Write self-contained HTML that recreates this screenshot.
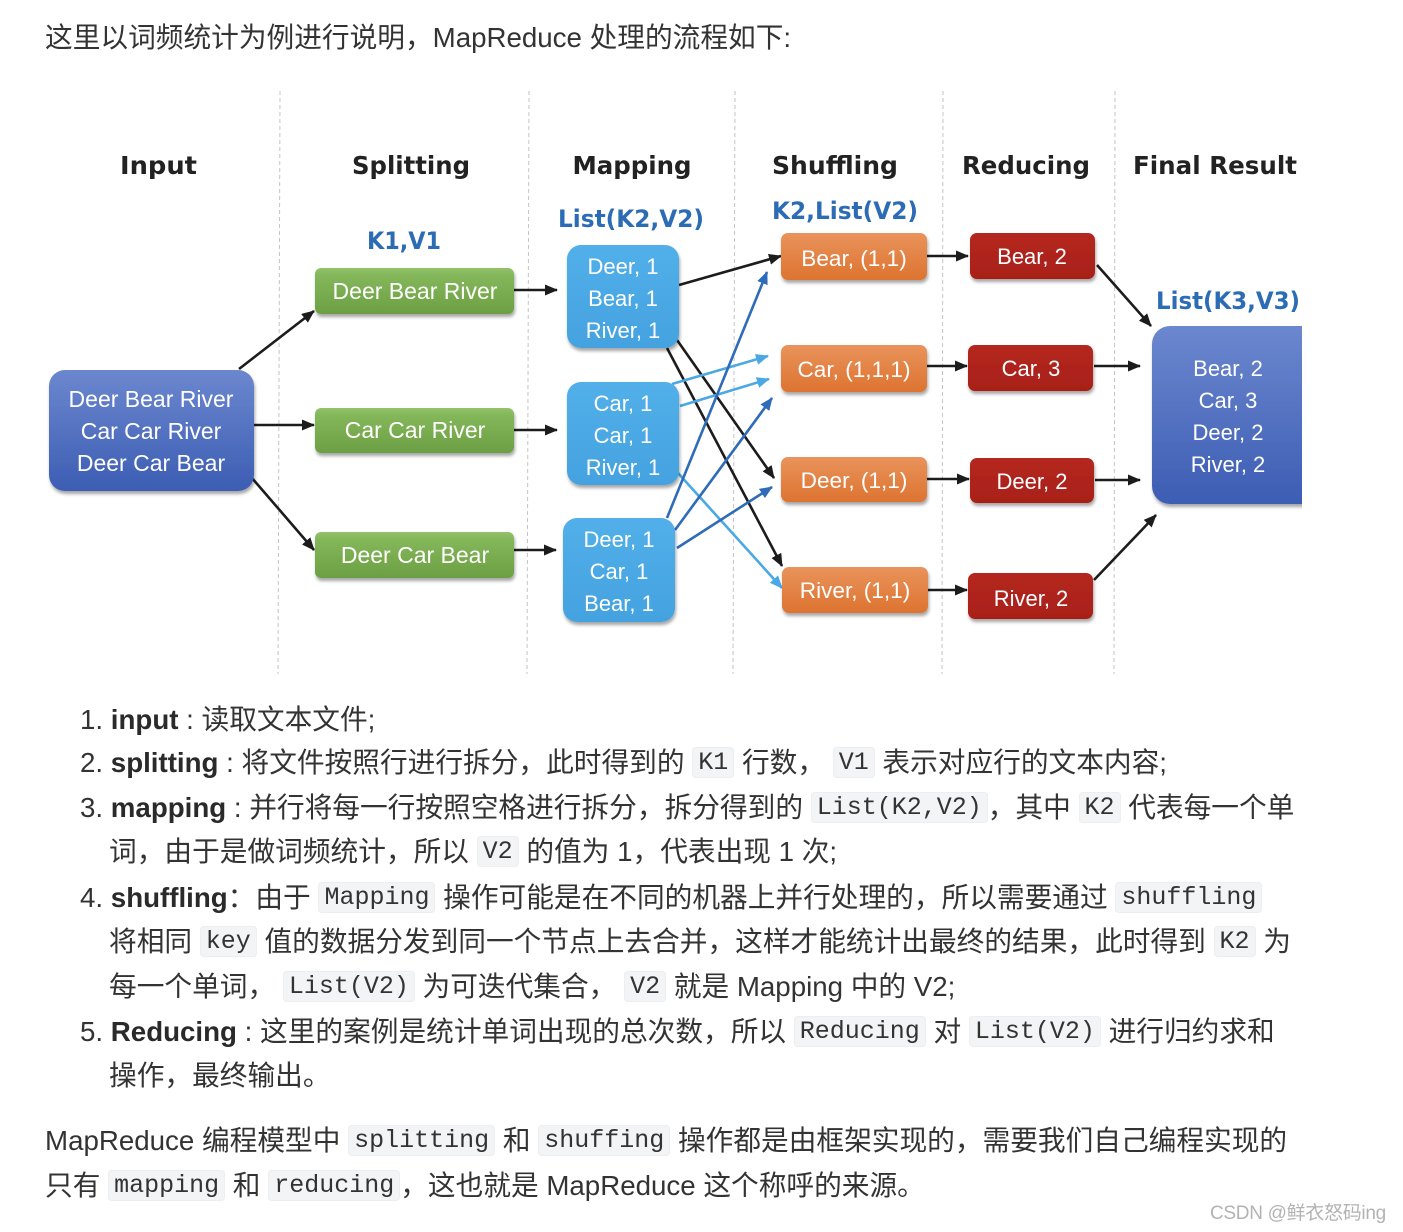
<!DOCTYPE html>
<html><head><meta charset="utf-8">
<style>
html,body{margin:0;padding:0;background:#fff;}
body{width:1403px;height:1232px;position:relative;overflow:hidden;}
.ln{position:absolute;white-space:nowrap;font-family:"Liberation Sans","Noto Sans CJK SC",sans-serif;font-size:27.7px;line-height:45px;height:45px;color:#333;}
.ln b{font-weight:bold;color:#2a2a2a;}
code{font-family:"Liberation Mono","Noto Sans CJK SC",monospace;font-size:25px;background:#f3f4f5;border-radius:4px;padding:1px 6px;color:#333;vertical-align:3px;box-shadow:0 0 0 1px #eceef0 inset;}
svg{position:absolute;left:0;top:0;}
.wm{position:absolute;left:1210px;top:1198px;font-family:"Liberation Sans","Noto Sans CJK SC",sans-serif;font-size:19px;color:#b3b3b3;white-space:nowrap;letter-spacing:-0.3px;}
</style></head>
<body>
<div class="ln" style="top:15px;left:45px">这里以词频统计为例进行说明，MapReduce 处理的流程如下:</div>

<svg width="1403" height="690" viewBox="0 0 1403 690" xmlns="http://www.w3.org/2000/svg">
<defs>
  <linearGradient id="gBlue" x1="0" y1="0" x2="0" y2="1">
    <stop offset="0" stop-color="#6c87cf"/><stop offset="1" stop-color="#3c5db3"/>
  </linearGradient>
  <linearGradient id="gGreen" x1="0" y1="0" x2="0" y2="1">
    <stop offset="0" stop-color="#93c26b"/><stop offset="0.15" stop-color="#84b75a"/><stop offset="1" stop-color="#6c9f44"/>
  </linearGradient>
  <linearGradient id="gLB" x1="0" y1="0" x2="0" y2="1">
    <stop offset="0" stop-color="#52afe9"/><stop offset="1" stop-color="#44a2e0"/>
  </linearGradient>
  <linearGradient id="gOr" x1="0" y1="0" x2="0" y2="1">
    <stop offset="0" stop-color="#e9935c"/><stop offset="1" stop-color="#dd7330"/>
  </linearGradient>
  <linearGradient id="gRed" x1="0" y1="0" x2="0" y2="1">
    <stop offset="0" stop-color="#b42820"/><stop offset="1" stop-color="#a81f18"/>
  </linearGradient>
  <filter id="sh" x="-10%" y="-10%" width="120%" height="130%">
    <feDropShadow dx="1" dy="3" stdDeviation="1.5" flood-color="#000" flood-opacity="0.35"/>
  </filter>
  <clipPath id="clipR"><rect x="0" y="0" width="1302" height="690"/></clipPath>
  <marker id="aK" markerUnits="userSpaceOnUse" markerWidth="13" markerHeight="11" refX="12" refY="5.5" orient="auto">
    <path d="M0,0 L13,5.5 L0,11 z" fill="#1c1c1c"/>
  </marker>
  <marker id="aL" markerUnits="userSpaceOnUse" markerWidth="13" markerHeight="11" refX="12" refY="5.5" orient="auto">
    <path d="M0,0 L13,5.5 L0,11 z" fill="#4aa8e4"/>
  </marker>
  <marker id="aD" markerUnits="userSpaceOnUse" markerWidth="13" markerHeight="11" refX="12" refY="5.5" orient="auto">
    <path d="M0,0 L13,5.5 L0,11 z" fill="#2e6bb8"/>
  </marker>
</defs>

<!-- dashed separators -->
<g stroke="#c4c4c4" stroke-width="1" stroke-dasharray="4 3">
  <line x1="280" y1="91" x2="278" y2="674"/>
  <line x1="529" y1="91" x2="527" y2="674"/>
  <line x1="735" y1="91" x2="733" y2="674"/>
  <line x1="943" y1="91" x2="942" y2="674"/>
  <line x1="1115" y1="91" x2="1114" y2="674"/>
</g>

<!-- headers -->
<g font-family="DejaVu Sans, Liberation Sans, sans-serif" font-weight="bold" font-size="25" fill="#222" text-anchor="middle">
  <text x="158.5" y="174" textLength="77" lengthAdjust="spacingAndGlyphs">Input</text>
  <text x="411" y="174" textLength="118" lengthAdjust="spacingAndGlyphs">Splitting</text>
  <text x="632" y="174" textLength="119" lengthAdjust="spacingAndGlyphs">Mapping</text>
  <text x="835" y="174" textLength="126" lengthAdjust="spacingAndGlyphs">Shuffling</text>
  <text x="1026" y="174" textLength="128" lengthAdjust="spacingAndGlyphs">Reducing</text>
  <text x="1215" y="174" textLength="164" lengthAdjust="spacingAndGlyphs">Final Result</text>
</g>
<g font-family="DejaVu Sans, Liberation Sans, sans-serif" font-weight="bold" font-size="24" fill="#2c6cb5" text-anchor="middle">
  <text x="404" y="249" textLength="74" lengthAdjust="spacingAndGlyphs">K1,V1</text>
  <text x="631" y="227" textLength="146" lengthAdjust="spacingAndGlyphs">List(K2,V2)</text>
  <text x="845" y="219" textLength="146" lengthAdjust="spacingAndGlyphs">K2,List(V2)</text>
  <text x="1228" y="309" textLength="144" lengthAdjust="spacingAndGlyphs">List(K3,V3)</text>
</g>

<!-- connectors -->
<g stroke="#1c1c1c" stroke-width="2.6" fill="none" marker-end="url(#aK)">
  <line x1="239" y1="369" x2="314" y2="311"/>
  <line x1="254" y1="425" x2="314" y2="425"/>
  <line x1="252" y1="478" x2="314" y2="550"/>
  <line x1="514" y1="290" x2="557" y2="290"/>
  <line x1="514" y1="430" x2="557" y2="430"/>
  <line x1="514" y1="550" x2="556" y2="550"/>
  <line x1="679" y1="285" x2="781" y2="256"/>
  <line x1="677" y1="340" x2="774" y2="478"/>
  <line x1="667" y1="348" x2="782" y2="566"/>
  <line x1="927" y1="256" x2="968" y2="256"/>
  <line x1="927" y1="366" x2="967" y2="366"/>
  <line x1="927" y1="479" x2="969" y2="479"/>
  <line x1="928" y1="590" x2="967" y2="590"/>
  <line x1="1097" y1="265" x2="1151" y2="326"/>
  <line x1="1094" y1="366" x2="1140" y2="366"/>
  <line x1="1095" y1="480" x2="1140" y2="480"/>
  <line x1="1094" y1="580" x2="1156" y2="515"/>
</g>
<g stroke="#4aa8e4" stroke-width="2.6" fill="none" marker-end="url(#aL)">
  <line x1="672" y1="384" x2="768" y2="356"/>
  <line x1="680" y1="406" x2="769" y2="379"/>
  <line x1="678" y1="473" x2="782" y2="588"/>
</g>
<g stroke="#2e6bb8" stroke-width="2.6" fill="none" marker-end="url(#aD)">
  <line x1="667" y1="518" x2="767" y2="272"/>
  <line x1="675" y1="530" x2="772" y2="398"/>
  <line x1="677" y1="548" x2="772" y2="487"/>
</g>

<!-- boxes -->
<g filter="url(#sh)">
  <rect x="49" y="370" width="205" height="121" rx="16" fill="url(#gBlue)"/>
  <rect x="315" y="268" width="199" height="46" rx="6" fill="url(#gGreen)"/>
  <rect x="315" y="408" width="199" height="45" rx="6" fill="url(#gGreen)"/>
  <rect x="315" y="532" width="199" height="46" rx="6" fill="url(#gGreen)"/>
  <rect x="567" y="245" width="112" height="103" rx="14" fill="url(#gLB)"/>
  <rect x="567" y="382" width="112" height="103" rx="14" fill="url(#gLB)"/>
  <rect x="563" y="518" width="112" height="104" rx="14" fill="url(#gLB)"/>
  <rect x="781" y="233" width="146" height="47" rx="7" fill="url(#gOr)"/>
  <rect x="781" y="345" width="146" height="47" rx="7" fill="url(#gOr)"/>
  <rect x="781" y="457" width="146" height="45" rx="7" fill="url(#gOr)"/>
  <rect x="782" y="567" width="146" height="46" rx="7" fill="url(#gOr)"/>
  <rect x="970" y="233" width="125" height="46" rx="7" fill="url(#gRed)"/>
  <rect x="968" y="345" width="125" height="46" rx="7" fill="url(#gRed)"/>
  <rect x="970" y="458" width="124" height="45" rx="7" fill="url(#gRed)"/>
  <rect x="968" y="573" width="125" height="46" rx="7" fill="url(#gRed)"/>
</g>
<g clip-path="url(#clipR)">
  <rect x="1152" y="326" width="175" height="178" rx="18" fill="url(#gBlue)" filter="url(#sh)"/>
</g>

<!-- box texts -->
<g font-family="Liberation Sans, sans-serif" fill="#fff" text-anchor="middle">
  <g font-size="23">
    <text x="151" y="407">Deer Bear River</text>
    <text x="151" y="439">Car Car River</text>
    <text x="151" y="471">Deer Car Bear</text>
    <text x="415" y="299">Deer Bear River</text>
    <text x="415" y="438">Car Car River</text>
    <text x="415" y="563">Deer Car Bear</text>
  </g>
  <g font-size="22">
    <text x="623" y="274">Deer, 1</text>
    <text x="623" y="306">Bear, 1</text>
    <text x="623" y="338">River, 1</text>
    <text x="623" y="411">Car, 1</text>
    <text x="623" y="443">Car, 1</text>
    <text x="623" y="475">River, 1</text>
    <text x="619" y="547">Deer, 1</text>
    <text x="619" y="579">Car, 1</text>
    <text x="619" y="611">Bear, 1</text>
    <text x="854" y="266" font-size="22.6">Bear, (1,1)</text>
    <text x="854" y="377" font-size="22.6">Car, (1,1,1)</text>
    <text x="854" y="488" font-size="22.6">Deer, (1,1)</text>
    <text x="855" y="598" font-size="22.6">River, (1,1)</text>
    <text x="1032" y="264">Bear, 2</text>
    <text x="1031" y="376">Car, 3</text>
    <text x="1032" y="489">Deer, 2</text>
    <text x="1031" y="606">River, 2</text>
    <text x="1228" y="376">Bear, 2</text>
    <text x="1228" y="408">Car, 3</text>
    <text x="1228" y="440">Deer, 2</text>
    <text x="1228" y="472">River, 2</text>
  </g>
</g>
</svg>

<div class="ln" style="top:697px;left:80px">1. <b>input</b> : 读取文本文件;</div>
<div class="ln" style="top:740px;left:80px">2. <b>splitting</b> : 将文件按照行进行拆分，此时得到的 <code>K1</code> 行数， <code>V1</code> 表示对应行的文本内容;</div>
<div class="ln" style="top:785px;left:80px">3. <b>mapping</b> : 并行将每一行按照空格进行拆分，拆分得到的 <code>List(K2,V2)</code>，其中 <code>K2</code> 代表每一个单</div>
<div class="ln" style="top:829px;left:109px">词，由于是做词频统计，所以 <code>V2</code> 的值为 1，代表出现 1 次;</div>
<div class="ln" style="top:875px;left:80px">4. <b>shuffling</b>：由于 <code>Mapping</code> 操作可能是在不同的机器上并行处理的，所以需要通过 <code>shuffling</code></div>
<div class="ln" style="top:919px;left:109px">将相同 <code>key</code> 值的数据分发到同一个节点上去合并，这样才能统计出最终的结果，此时得到 <code>K2</code> 为</div>
<div class="ln" style="top:964px;left:109px">每一个单词， <code>List(V2)</code> 为可迭代集合， <code>V2</code> 就是 Mapping 中的 V2;</div>
<div class="ln" style="top:1009px;left:80px">5. <b>Reducing</b> : 这里的案例是统计单词出现的总次数，所以 <code>Reducing</code> 对 <code>List(V2)</code> 进行归约求和</div>
<div class="ln" style="top:1053px;left:109px">操作，最终输出。</div>

<div class="ln" style="top:1118px;left:45px">MapReduce 编程模型中 <code>splitting</code> 和 <code>shuffing</code> 操作都是由框架实现的，需要我们自己编程实现的</div>
<div class="ln" style="top:1163px;left:45px">只有 <code>mapping</code> 和 <code>reducing</code>，这也就是 MapReduce 这个称呼的来源。</div>

<div class="wm">CSDN @鲜衣怒码ing</div>
</body></html>
